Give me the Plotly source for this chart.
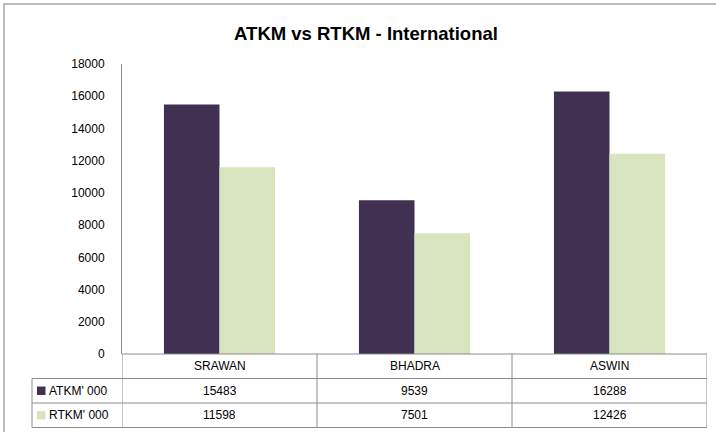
import plotly.graph_objects as go

categories = ["SRAWAN", "BHADRA", "ASWIN"]
atkm = [15483, 9539, 16288]
rtkm = [11598, 7501, 12426]
series_names = ["ATKM' 000", "RTKM' 000"]
y_ticks = list(range(0, 18001, 2000))

dark = "#403152"
light = "#D7E4BD"
grid_col = "#8C8C8C"
FONT = "Liberation Sans"

fig = go.Figure()
fig.add_bar(x=categories, y=atkm, name=series_names[0], marker_color=dark, marker_line_width=0)
fig.add_bar(x=categories, y=rtkm, name=series_names[1], marker_color=light, marker_line_width=0)

W, H = 716, 432
L, R, T, B = 122, 9, 64, 78
pw = W - L - R
ph = H - T - B
row = 24.5 / ph
legx = (32 - L) / pw

shapes = []
def line(x0, y0, x1, y1, xref="paper"):
    shapes.append(dict(type="line", xref=xref, yref="paper", x0=x0, y0=y0, x1=x1, y1=y1,
                       line=dict(color=grid_col, width=1)))

# outer frame (extends past the right and bottom edges)
shapes.append(dict(type="rect", xref="paper", yref="paper",
                   x0=(4 - L) / pw, x1=(W + 10 - L) / pw,
                   y0=(-B - 20) / ph, y1=(ph + T - 4) / ph,
                   line=dict(color="#A6A6A6", width=1.5), layer="below"))

# horizontal lines of table
line(0, 0, 1, 0)
for k in range(1, 4):
    line(legx, -k * row, 1, -k * row)
# vertical lines
line(legx, -row, legx, -3 * row)
for b in [-0.5, 0.5, 1.5, 2.5]:
    line(b, 0, b, -3 * row, xref="x")

annotations = []
tf = dict(family=FONT, size=12, color="#000000")
for i, c in enumerate(categories):
    annotations.append(dict(x=c, xref="x", y=-0.5 * row, yref="paper", text=c, showarrow=False,
                            font=tf, xanchor="center", yanchor="middle"))
    annotations.append(dict(x=c, xref="x", y=-1.5 * row, yref="paper", text=str(atkm[i]), showarrow=False,
                            font=tf, xanchor="center", yanchor="middle"))
    annotations.append(dict(x=c, xref="x", y=-2.5 * row, yref="paper", text=str(rtkm[i]), showarrow=False,
                            font=tf, xanchor="center", yanchor="middle"))

# legend keys in table
for k, (nm, col) in enumerate(zip(series_names, [dark, light])):
    yc = -(1.5 + k) * row
    sq = 8.5 / ph
    shapes.append(dict(type="rect", xref="paper", yref="paper",
                       x0=(37 - L) / pw, x1=(45.5 - L) / pw, y0=yc - sq / 2, y1=yc + sq / 2,
                       line=dict(width=0), fillcolor=col))
    annotations.append(dict(x=(47 - L) / pw, xref="paper", y=yc, yref="paper", text=nm, showarrow=False,
                            font=tf, xanchor="left", yanchor="middle"))

fig.update_layout(
    width=W, height=H,
    margin=dict(l=L, r=R, t=T, b=B),
    paper_bgcolor="white", plot_bgcolor="white",
    barmode="group", bargap=0.43, bargroupgap=0,
    showlegend=False,
    title=dict(text="<b>ATKM vs RTKM - International</b>", x=366 / W, xanchor="center",
               y=1 - 34 / H, yanchor="middle", font=dict(family=FONT, size=18.5, color="#000000")),
    xaxis=dict(range=[-0.5, 2.5], showticklabels=False, showline=False, showgrid=False, zeroline=False),
    yaxis=dict(range=[0, 18000], tickvals=y_ticks, ticktext=[str(v) for v in y_ticks],
               showgrid=False, zeroline=False,
               showline=True, linecolor=grid_col, linewidth=1, ticks="",
               ticklabelstandoff=14, tickfont=dict(family=FONT, size=12, color="#000000")),
    shapes=shapes, annotations=annotations,
)

fig.write_html("out.html", config={"displayModeBar": False},
               post_script="document.body.style.margin='0px';document.body.style.overflow='hidden';")
